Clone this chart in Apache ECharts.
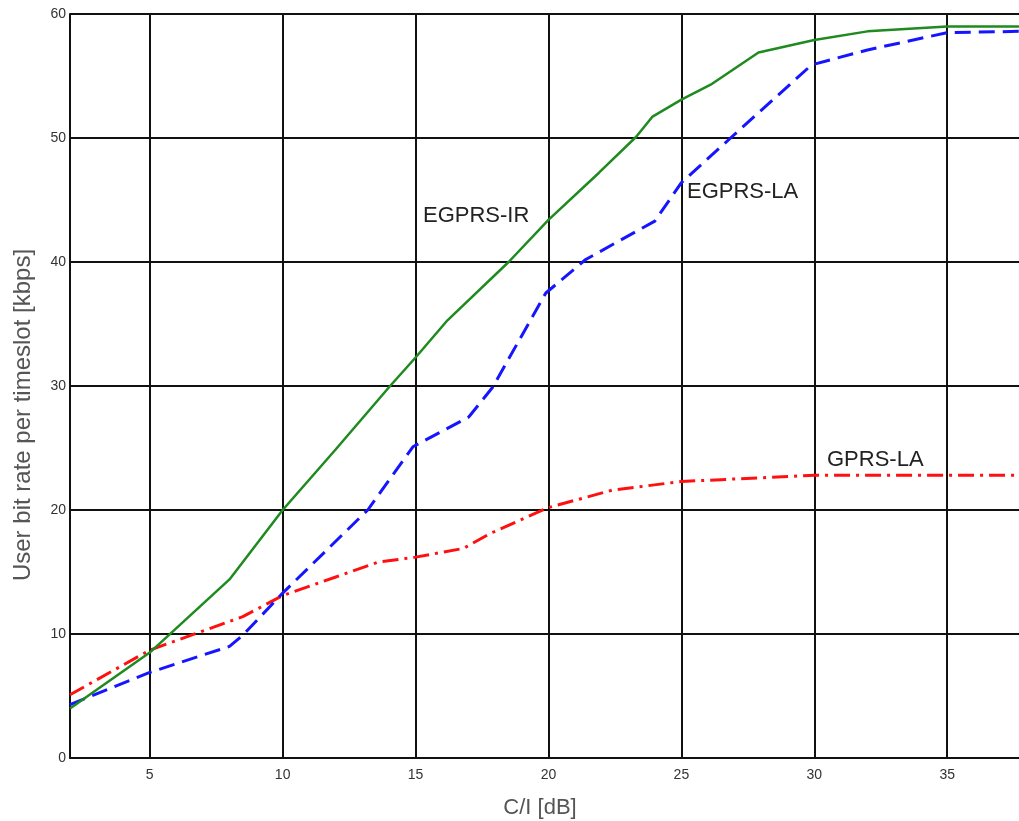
<!DOCTYPE html>
<html>
<head>
<meta charset="utf-8">
<script src="https://cdn.jsdelivr.net/npm/echarts@6/dist/echarts.min.js"></script>
<style>
  html, body { margin: 0; padding: 0; background: #fff; }
  #chart { width: 1019px; height: 821px; }
</style>
</head>
<body>
<div id="chart"></div>
<script>
// C/I [dB] sample points and user bit rate per timeslot [kbps]
const irX = [2, 5, 8, 10, 12, 14, 15, 16.2, 18.5, 20, 21.9, 23.3, 23.9, 25, 26.1, 27.9, 30, 32, 35, 37.7];
const irY = [4.0, 8.5, 14.4, 20.0, 24.9, 29.9, 32.3, 35.3, 40.0, 43.4, 47.2, 50.1, 51.7, 53.1, 54.3, 56.9, 57.9, 58.6, 59.0, 59.0];

const laX = [2, 5, 8, 8.5, 10, 13.2, 14, 14.9, 17, 17.9, 19.9, 21.4, 24, 25, 26.9, 29.9, 32, 35, 37.7];
const laY = [4.3, 6.9, 9.0, 9.9, 13.3, 20.0, 22.4, 25.1, 27.5, 29.9, 37.5, 40.2, 43.3, 46.4, 50.1, 55.9, 57.1, 58.5, 58.6];

const gprsX = [2, 5, 8.5, 10, 12, 13.6, 15, 16.8, 17.8, 20, 22.4, 25, 28, 30, 37.7];
const gprsY = [5.1, 8.7, 11.4, 13.1, 14.6, 15.8, 16.2, 16.9, 18.1, 20.2, 21.6, 22.3, 22.6, 22.8, 22.8];

const xTicks = [5, 10, 15, 20, 25, 30, 35];

const pairs = (xs, ys) => xs.map((x, i) => [x, ys[i]]);

const myChart = echarts.init(document.getElementById('chart'));
const gridLine = { show: true, lineStyle: { color: '#111', width: 2 } };

const option = {
  animation: false,
  backgroundColor: '#fff',
  grid: { left: 70, right: 0, top: 14, bottom: 63 },
  xAxis: {
    type: 'value',
    min: 2,
    max: 37.7,
    axisLine: { show: true, lineStyle: { color: '#111', width: 2 } },
    axisTick: { show: false, customValues: xTicks },
    axisLabel: { customValues: xTicks, color: '#333', fontSize: 14, fontFamily: 'Liberation Sans', margin: 10 },
    splitLine: gridLine
  },
  yAxis: {
    type: 'value',
    min: 0,
    max: 60,
    interval: 10,
    axisLine: { show: true, lineStyle: { color: '#111', width: 2 } },
    axisTick: { show: false },
    axisLabel: { color: '#333', fontSize: 14, fontFamily: 'Liberation Sans', margin: 4 },
    splitLine: gridLine
  },
  graphic: [
    { type: 'text', left: 423, top: 205, style: { text: 'EGPRS-IR', font: '22px "Liberation Sans"', fill: '#222' } },
    { type: 'text', left: 687, top: 181, style: { text: 'EGPRS-LA', font: '22px "Liberation Sans"', fill: '#222' } },
    { type: 'text', left: 827, top: 449, style: { text: 'GPRS-LA', font: '22px "Liberation Sans"', fill: '#222' } },
    { type: 'text', x: 23, y: 415, rotation: Math.PI / 2,
      style: { text: 'User bit rate per timeslot [kbps]', font: '24px "Liberation Sans"', fill: '#555', align: 'center', verticalAlign: 'middle' } },
    { type: 'text', x: 540, y: 808,
      style: { text: 'C/I [dB]', font: '22px "Liberation Sans"', fill: '#555', align: 'center', verticalAlign: 'middle' } }
  ],
  series: [
    {
      name: 'GPRS-LA',
      type: 'line',
      data: pairs(gprsX, gprsY),
      showSymbol: false,
      lineStyle: { color: '#ff1010', width: 3, type: [16, 6, 3, 6] }
    },
    {
      name: 'EGPRS-LA',
      type: 'line',
      data: pairs(laX, laY),
      showSymbol: false,
      lineStyle: { color: '#1515ff', width: 3, type: [16, 8] }
    },
    {
      name: 'EGPRS-IR',
      type: 'line',
      data: pairs(irX, irY),
      showSymbol: false,
      lineStyle: { color: '#1f8a1f', width: 2.5 }
    }
  ]
};
myChart.setOption(option);
</script>
</body>
</html>
